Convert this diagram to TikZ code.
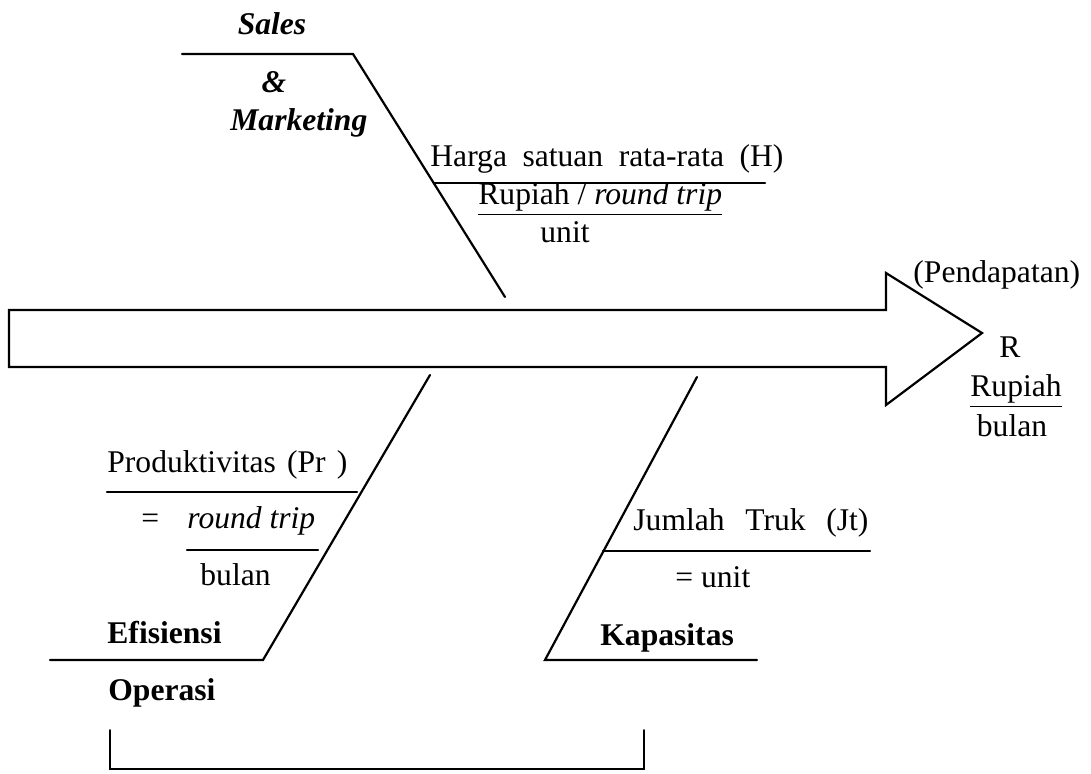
\documentclass[tikz,border=0pt]{standalone}
\usepackage{fontspec}
\setmainfont{Liberation Serif}
\begin{document}
\begin{tikzpicture}[x=0.5pt,y=-0.5pt,
  bone/.style={line width=1.1pt, line join=miter, line cap=round},
  lbl/.style={inner sep=0pt, anchor=base west, font=\fontsize{15.8}{19}\selectfont},
  clbl/.style={lbl, anchor=base}]
\useasboundingbox (0,0) rectangle (1091,774);

% main spine drawn as a block arrow
\draw[bone] (9,310) -- (886,310) -- (886,273) -- (982,333) -- (886,405)
  -- (886,367) -- (9,367) -- cycle;

% bone points
\coordinate (s1) at (182,54);
\coordinate (s2) at (353,54);
\coordinate (s3) at (505,297);
\coordinate (e1) at (50,660);
\coordinate (e2) at (263,660);
\coordinate (e3) at (430,375);
\coordinate (k1) at (757,660);
\coordinate (k2) at (545,660);
\coordinate (k3) at (697,377);

\draw[bone] (s1) -- (s2) -- (s3);
\draw[bone] (e1) -- (e2) -- (e3);
\draw[bone] (k1) -- (k2) -- (k3);

% Sales & Marketing
\node[clbl, font=\fontsize{15.8}{19}\selectfont\bfseries\itshape] (sales) at (272,35) {Sales};
\node[clbl, font=\fontsize{15.8}{19}\selectfont\bfseries\itshape] (amp) at (274,93) {\&};
\node[lbl, font=\fontsize{15.8}{19}\selectfont\bfseries\itshape] (mkt) at (230,131) {Marketing};

\node[lbl] (harga) at (430,167) {\makebox[176.5pt][s]{Harga satuan rata-rata (H)}};
\coordinate (h1) at (434,183);
\coordinate (h2) at (765,183);
\draw[bone] (h1) -- (h2);
\node[lbl] (hrp) at (478,205) {\underline{Rupiah / \textit{round trip}}};
\node[lbl] (hunit) at (540,243) {unit};

% result
\node[lbl] (pend) at (913,283) {(Pendapatan)};
\node[clbl] (r) at (1010,358) {R};
\node[lbl] (rrp) at (970,397) {\underline{Rupiah}};
\node[clbl] (rbl) at (1012,437) {bulan};

% Efisiensi Operasi
\node[lbl] (prod) at (107,473) {\makebox[120pt][s]{Produktivitas (Pr )}};
\coordinate (p1) at (107,492);
\coordinate (p2) at (357,492);
\draw[bone] (p1) -- (p2);
\node[lbl] (eq1) at (141,528) {=};
\node[lbl] (rt) at (187,528) {\textit{round trip}};
\coordinate (f1) at (187,550);
\coordinate (f2) at (318,550);
\draw[bone] (f1) -- (f2);
\node[lbl] (pbl) at (200,585) {bulan};
\node[lbl, font=\fontsize{15.8}{19}\selectfont\bfseries] (ef) at (107,643) {Efisiensi};
\node[lbl, font=\fontsize{15.8}{19}\selectfont\bfseries] (op) at (108,700) {Operasi};

% Kapasitas
\node[lbl] (jt) at (633,530) {\makebox[117.5pt][s]{Jumlah Truk (Jt)}};
\coordinate (j1) at (603,551);
\coordinate (j2) at (870,551);
\draw[bone] (j1) -- (j2);
\node[lbl] (junit) at (675,587) {= unit};
\node[lbl, font=\fontsize{15.8}{19}\selectfont\bfseries] (kap) at (600,645) {Kapasitas};

% bracket under the lower bones
\coordinate (b1) at (110,730);
\coordinate (b2) at (110,769);
\coordinate (b3) at (644,769);
\coordinate (b4) at (644,730);
\draw[bone, line width=1pt] (b1) -- (b2) -- (b3) -- (b4);
\end{tikzpicture}
\end{document}
